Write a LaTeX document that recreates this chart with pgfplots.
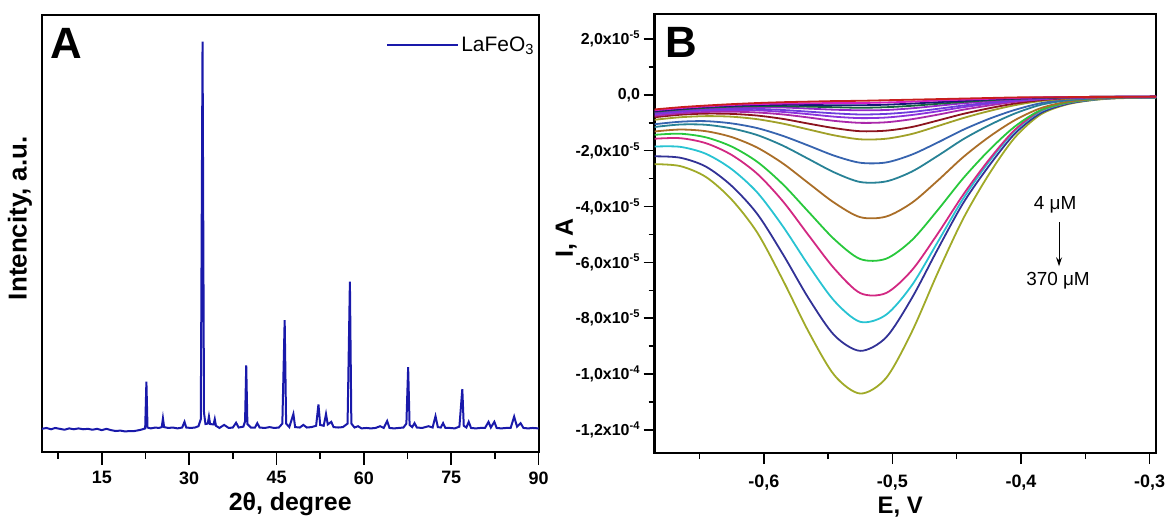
\documentclass[border=0pt]{standalone}
\usepackage{pgfplots}
\pgfplotsset{compat=1.18}
\usepackage{pgfplotstable}
\usepackage{fontspec}
\setmainfont{Liberation Sans}
\usetikzlibrary{arrows.meta}
\newcommand{\fs}[1]{\fontsize{#1}{#1}\selectfont}

\definecolor{xrd}{RGB}{25,25,170}
\definecolor{k1}{RGB}{160,170,40}
\definecolor{k2}{RGB}{50,50,150}
\definecolor{k3}{RGB}{40,195,210}
\definecolor{k4}{RGB}{210,40,130}
\definecolor{k5}{RGB}{40,200,60}
\definecolor{k6}{RGB}{170,110,40}
\definecolor{k7}{RGB}{40,130,150}
\definecolor{k8}{RGB}{55,100,175}
\definecolor{k9}{RGB}{160,160,40}
\definecolor{k10}{RGB}{140,20,30}
\definecolor{k11}{RGB}{170,40,170}
\definecolor{k12}{RGB}{140,50,220}
\definecolor{k13}{RGB}{110,60,220}
\definecolor{k14}{RGB}{150,40,200}
\definecolor{k15}{RGB}{20,100,60}
\definecolor{k16}{RGB}{20,20,120}
\definecolor{k17}{RGB}{210,30,200}
\definecolor{k18}{RGB}{200,30,30}

\pgfplotstableread{
E c1 c2 c3 c4 c5 c6 c7 c8 c9 c10 c11 c12 c13 c14 c15 c16 c17 c18
-0.685 -2.48 -2.20 -1.85 -1.57 -1.43 -1.31 -1.15 -1.05 -0.89 -0.80 -0.75 -0.70 -0.66 -0.62 -0.60 -0.58 -0.55 -0.52
-0.665 -2.55 -2.25 -1.86 -1.55 -1.39 -1.24 -1.06 -0.96 -0.80 -0.71 -0.66 -0.61 -0.57 -0.54 -0.52 -0.50 -0.47 -0.44
-0.645 -2.94 -2.57 -2.11 -1.73 -1.52 -1.30 -1.07 -0.94 -0.76 -0.67 -0.61 -0.56 -0.52 -0.48 -0.46 -0.43 -0.41 -0.38
-0.625 -3.75 -3.26 -2.66 -2.15 -1.85 -1.51 -1.20 -1.02 -0.78 -0.68 -0.60 -0.54 -0.49 -0.45 -0.42 -0.39 -0.36 -0.33
-0.605 -4.94 -4.27 -3.50 -2.83 -2.40 -1.89 -1.44 -1.19 -0.87 -0.74 -0.63 -0.55 -0.50 -0.44 -0.40 -0.36 -0.33 -0.29
-0.585 -6.65 -5.72 -4.72 -3.82 -3.21 -2.46 -1.82 -1.47 -1.03 -0.86 -0.70 -0.61 -0.54 -0.45 -0.40 -0.35 -0.31 -0.26
-0.565 -8.50 -7.30 -6.12 -5.04 -4.20 -3.17 -2.30 -1.82 -1.24 -1.03 -0.81 -0.69 -0.60 -0.49 -0.42 -0.36 -0.30 -0.24
-0.545 -10.05 -8.62 -7.39 -6.23 -5.18 -3.87 -2.78 -2.18 -1.45 -1.19 -0.93 -0.78 -0.66 -0.53 -0.44 -0.37 -0.29 -0.22
-0.525 -10.70 -9.17 -8.13 -7.10 -5.88 -4.38 -3.12 -2.43 -1.59 -1.30 -1.00 -0.83 -0.70 -0.55 -0.46 -0.37 -0.29 -0.21
-0.505 -10.15 -8.69 -7.88 -7.10 -5.87 -4.36 -3.10 -2.42 -1.57 -1.28 -0.98 -0.81 -0.68 -0.54 -0.44 -0.35 -0.27 -0.19
-0.485 -8.50 -7.29 -6.83 -6.29 -5.21 -3.87 -2.75 -2.14 -1.40 -1.15 -0.87 -0.72 -0.61 -0.48 -0.39 -0.31 -0.24 -0.17
-0.465 -6.40 -5.55 -5.29 -4.99 -4.14 -3.08 -2.19 -1.71 -1.12 -0.92 -0.71 -0.59 -0.50 -0.39 -0.32 -0.26 -0.20 -0.15
-0.445 -4.44 -3.88 -3.72 -3.58 -2.99 -2.23 -1.59 -1.25 -0.83 -0.68 -0.53 -0.44 -0.38 -0.30 -0.25 -0.21 -0.17 -0.13
-0.425 -2.85 -2.55 -2.40 -2.33 -1.99 -1.51 -1.09 -0.86 -0.58 -0.48 -0.38 -0.32 -0.28 -0.23 -0.19 -0.16 -0.14 -0.11
-0.405 -1.54 -1.40 -1.30 -1.26 -1.14 -0.91 -0.67 -0.54 -0.37 -0.31 -0.25 -0.22 -0.19 -0.16 -0.14 -0.13 -0.11 -0.09
-0.385 -0.71 -0.66 -0.60 -0.57 -0.55 -0.48 -0.36 -0.30 -0.22 -0.19 -0.16 -0.15 -0.13 -0.12 -0.11 -0.10 -0.09 -0.08
-0.365 -0.35 -0.33 -0.30 -0.29 -0.28 -0.25 -0.20 -0.17 -0.14 -0.12 -0.11 -0.10 -0.10 -0.09 -0.09 -0.08 -0.08 -0.08
-0.345 -0.19 -0.18 -0.17 -0.16 -0.16 -0.15 -0.13 -0.11 -0.10 -0.09 -0.09 -0.08 -0.08 -0.08 -0.07 -0.07 -0.07 -0.07
-0.325 -0.12 -0.11 -0.11 -0.11 -0.10 -0.10 -0.09 -0.09 -0.08 -0.08 -0.07 -0.07 -0.07 -0.07 -0.07 -0.07 -0.07 -0.07
-0.295 -0.10 -0.10 -0.09 -0.08 -0.08 -0.08 -0.08 -0.07 -0.07 -0.07 -0.07 -0.07 -0.07 -0.06 -0.06 -0.06 -0.06 -0.06
}\cvdata

\begin{document}
\begin{tikzpicture}
\useasboundingbox (0,0) rectangle (1168bp,517bp);
% ---------------- Panel A ----------------
\begin{axis}[
  at={(41.8bp,65bp)}, anchor=south west, scale only axis,
  width=496.8bp, height=437bp,
  xmin=4.7, xmax=90, ymin=0, ymax=100,
  xtick={15,30,45,60,75,90},
  minor xtick={7.5,22.5,37.5,52.5,67.5,82.5},
  ytick=\empty,
  xtick pos=bottom, tick align=outside,
  major tick length=13bp, minor tick length=7bp,
  tick style={black, line width=1.5bp},
  axis line style={line width=2.2bp},
  /pgf/number format/assume math mode=true,
  xticklabel style={font=\fs{18}\bfseries, yshift=-3bp},
  xlabel={2θ, degree},
  xlabel style={font=\fs{25}\bfseries, at={(axis description cs:0.5,-0.135)}, anchor=base},
  ylabel={Intencity, a.u.},
  ylabel style={font=\fs{26}\bfseries, at={(axis description cs:-0.044,0.535)}, anchor=center},
  legend style={draw=none, fill=none, at={(rel axis cs:0.995,0.955)}, anchor=north east,
    font=\fs{21}, inner sep=0pt},
  legend cell align=left,
  legend image code/.code={\draw[#1] (0bp,0bp) -- (71bp,0bp);},
]
\addplot[xrd, line width=2bp] coordinates {
(4.7,5.3) (5.5,5.5) (6.3,5.2) (7.0,5.5) (7.8,5.3) (8.6,5.1) (9.4,5.4) (10.2,5.2)
(11.0,5.4) (11.8,5.2) (12.6,5.3) (13.4,5.1) (14.2,5.3) (15.0,5.0) (15.8,5.3)
(16.6,5.0) (17.4,4.8) (18.2,4.9) (19.0,4.7) (19.8,4.8) (20.6,4.8) (21.4,5.0)
(22.0,5.2) (22.45,5.4) (22.66,16.1) (22.85,5.6) (23.4,5.4) (24.2,5.6) (24.8,5.5)
(25.3,5.7) (25.5,7.7) (25.7,5.7) (26.4,5.5) (27.2,5.6) (28.0,5.4) (28.8,5.6)
(29.2,6.9) (29.5,5.6) (30.3,5.5) (31.0,5.6) (31.6,5.9) (32.0,7.5) (32.3,93.9)
(32.55,9.0) (32.8,6.4) (33.2,6.5) (33.4,8.1) (33.6,6.4) (34.2,6.3) (34.4,7.5)
(34.6,6.0) (35.2,5.5) (36.0,6.2) (36.8,5.5) (37.5,5.6) (38.06,6.7) (38.5,5.6)
(39.3,5.8) (39.6,7.0) (39.8,19.8) (40.0,6.4) (40.6,5.6) (41.3,5.6) (41.7,6.6)
(42.1,5.6) (43.0,5.5) (43.8,5.7) (44.6,5.5) (45.4,5.6) (46.0,6.5) (46.4,30.2)
(46.65,6.5) (47.2,5.7) (47.9,8.7) (48.2,5.7) (49.0,5.6) (49.6,6.2) (50.2,5.6)
(51.0,5.7) (51.8,6.0) (52.2,10.9) (52.5,6.2) (53.1,6.0) (53.5,8.7) (53.8,6.3)
(54.4,6.9) (54.8,5.7) (55.6,5.6) (56.4,5.7) (57.2,6.5) (57.6,39.0) (57.85,6.5)
(58.4,5.6) (59.0,5.9) (59.6,5.4) (60.4,5.5) (61.2,5.4) (62.0,5.5) (62.8,5.9)
(63.4,5.5) (64.0,7.1) (64.4,5.5) (65.2,5.4) (66.0,5.5) (66.8,5.6) (67.3,6.5)
(67.6,19.4) (67.85,6.2) (68.3,5.7) (68.7,6.6) (69.1,5.6) (70.0,5.5) (71.1,5.9)
(71.8,5.6) (72.3,8.2) (72.7,5.7) (73.2,5.6) (73.6,6.6) (74.0,5.5) (74.8,5.5)
(75.6,5.4) (76.4,5.8) (76.9,14.4) (77.15,6.0) (77.6,5.6) (78.0,6.9) (78.4,5.5)
(79.2,5.4) (80.0,5.5) (80.8,5.5) (81.4,6.9) (81.8,5.6) (82.4,6.9) (82.8,5.5)
(83.6,5.4) (84.4,5.5) (85.2,5.5) (85.8,8.1) (86.3,5.8) (86.9,6.6) (87.4,5.5)
(88.2,5.4) (89.0,5.5) (90.0,5.4)
};
\addlegendentry{LaFeO\textsubscript{3}}
\node[font=\fs{44}\bfseries] at (rel axis cs:0.049,0.936) {A};
\end{axis}

% ---------------- Panel B ----------------
\begin{axis}[
  at={(654.5bp,64bp)}, anchor=south west, scale only axis,
  width=501.5bp, height=439bp,
  xmin=-0.685, xmax=-0.295, ymin=-12.83, ymax=2.9,
  xtick={-0.6,-0.5,-0.4,-0.3},
  xticklabels={{-0,6},{-0,5},{-0,4},{-0,3}},
  minor xtick={-0.65,-0.55,-0.45,-0.35},
  ytick={2,0,-2,-4,-6,-8,-10,-12},
  yticklabels={{2,0x10\textsuperscript{-5}},{0,0},{-2,0x10\textsuperscript{-5}},{-4,0x10\textsuperscript{-5}},{-6,0x10\textsuperscript{-5}},{-8,0x10\textsuperscript{-5}},{-1,0x10\textsuperscript{-4}},{-1,2x10\textsuperscript{-4}}},
  minor ytick={1,-1,-3,-5,-7,-9,-11},
  xtick pos=bottom, ytick pos=left, tick align=outside,
  major tick length=11bp, minor tick length=6bp,
  tick style={black, line width=1.5bp},
  axis line style={line width=2.2bp},
  xticklabel style={font=\fs{18}\bfseries, yshift=-7bp},
  yticklabel style={font=\fs{16}\bfseries},
  xlabel={E, V},
  xlabel style={font=\fs{24}\bfseries, at={(axis description cs:0.49,-0.137)}, anchor=base},
  ylabel={I, A},
  ylabel style={font=\fs{25}\bfseries, at={(axis description cs:-0.176,0.49)}, anchor=center},
  every axis plot/.append style={line width=1.8bp, smooth},
]
\addplot[k1] table[x=E,y=c1] {\cvdata};
\addplot[k2] table[x=E,y=c2] {\cvdata};
\addplot[k3] table[x=E,y=c3] {\cvdata};
\addplot[k4] table[x=E,y=c4] {\cvdata};
\addplot[k5] table[x=E,y=c5] {\cvdata};
\addplot[k6] table[x=E,y=c6] {\cvdata};
\addplot[k7] table[x=E,y=c7] {\cvdata};
\addplot[k8] table[x=E,y=c8] {\cvdata};
\addplot[k9] table[x=E,y=c9] {\cvdata};
\addplot[k10] table[x=E,y=c10] {\cvdata};
\addplot[k11] table[x=E,y=c11] {\cvdata};
\addplot[k12] table[x=E,y=c12] {\cvdata};
\addplot[k13] table[x=E,y=c13] {\cvdata};
\addplot[k14] table[x=E,y=c14] {\cvdata};
\addplot[k15] table[x=E,y=c15] {\cvdata};
\addplot[k16] table[x=E,y=c16] {\cvdata};
\addplot[k17] table[x=E,y=c17] {\cvdata};
\addplot[k18] table[x=E,y=c18] {\cvdata};
\node[font=\fs{44}\bfseries] at (rel axis cs:0.053,0.936) {B};
\node[font=\fs{19}] at (axis cs:-0.3735,-3.93) {4 μM};
\node[font=\fs{19}] at (axis cs:-0.3712,-6.64) {370 μM};
\draw[-{Stealth[length=9bp,width=6bp]}, line width=1bp] (axis cs:-0.3704,-4.57) -- (axis cs:-0.3704,-6.14);
\end{axis}
\end{tikzpicture}
\end{document}
